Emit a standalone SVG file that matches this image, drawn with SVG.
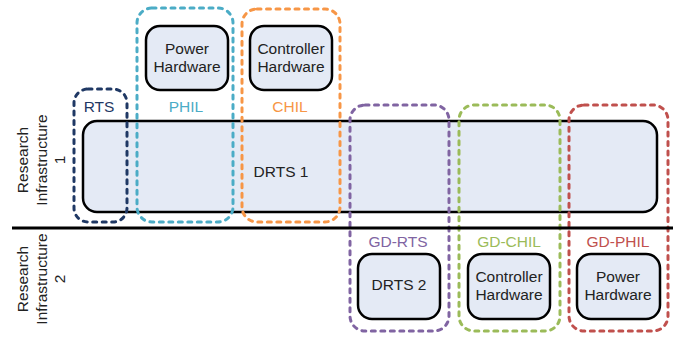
<svg xmlns="http://www.w3.org/2000/svg" width="678" height="339" viewBox="0 0 678 339">
<style>
text{font-family:"Liberation Sans",Arial,sans-serif;font-size:15.5px;fill:#222;text-anchor:middle}
.box{fill:#e4eaf5;stroke:#000;stroke-width:2.5}
.grp{fill:none;stroke-width:3;stroke-dasharray:4 5.5;stroke-linecap:round}
</style>
<rect width="678" height="339" fill="#fff"/>
<g id="drts1">
<rect class="box" x="83" y="121" width="574" height="91" rx="14"/>
<text x="281" y="177">DRTS 1</text>
</g>
<g id="rts">
<rect class="grp" stroke="#1f3864" x="74" y="89" width="53" height="133" rx="14"/>
<text x="99" y="112" style="fill:#1f3864">RTS</text>
</g>
<g id="phil">
<rect class="grp" stroke="#4bacc6" x="137" y="8" width="96" height="214" rx="15"/>
<text x="186" y="112" style="fill:#4bacc6">PHIL</text>
</g>
<g id="chil">
<rect class="grp" stroke="#f79646" x="242" y="9" width="98" height="213" rx="15"/>
<text x="290" y="112" style="fill:#f79646">CHIL</text>
</g>
<g id="gd-rts">
<rect class="grp" stroke="#8064a2" x="350" y="105" width="99" height="226" rx="15"/>
<text x="398" y="247" style="fill:#8064a2">GD-RTS</text>
</g>
<g id="gd-chil">
<rect class="grp" stroke="#9bbb59" x="459" y="105" width="101" height="226" rx="15"/>
<text x="509" y="247" style="fill:#9bbb59">GD-CHIL</text>
</g>
<g id="gd-phil">
<rect class="grp" stroke="#c0504d" x="569" y="105" width="99" height="226" rx="15"/>
<text x="618" y="247" style="fill:#c0504d">GD-PHIL</text>
</g>
<g id="power-hw-1">
<rect class="box" x="146" y="26" width="82" height="64" rx="14"/>
<text x="187" y="54">Power</text>
<text x="187" y="72">Hardware</text>
</g>
<g id="controller-hw-1">
<rect class="box" x="250" y="26" width="82" height="64" rx="14"/>
<text x="291" y="54">Controller</text>
<text x="291" y="72">Hardware</text>
</g>
<g id="drts2">
<rect class="box" x="358" y="254" width="82" height="65" rx="14"/>
<text x="399" y="290">DRTS 2</text>
</g>
<g id="controller-hw-2">
<rect class="box" x="468" y="254" width="82" height="65" rx="14"/>
<text x="509" y="282">Controller</text>
<text x="509" y="300">Hardware</text>
</g>
<g id="power-hw-2">
<rect class="box" x="577" y="254" width="83" height="65" rx="14"/>
<text x="618" y="282">Power</text>
<text x="618" y="300">Hardware</text>
</g>
<g id="ri1" transform="translate(0,160) rotate(-90)">
<text x="0" y="28">Research</text>
<text x="0" y="46.5">Infrastructure</text>
<text x="0" y="65">1</text>
</g>
<g id="ri2" transform="translate(0,279) rotate(-90)">
<text x="0" y="28">Research</text>
<text x="0" y="46.5">Infrastructure</text>
<text x="0" y="65">2</text>
</g>
<g id="connectors">
<line x1="12" y1="228" x2="673" y2="228" stroke="#000" stroke-width="3"/>
</g>
</svg>
